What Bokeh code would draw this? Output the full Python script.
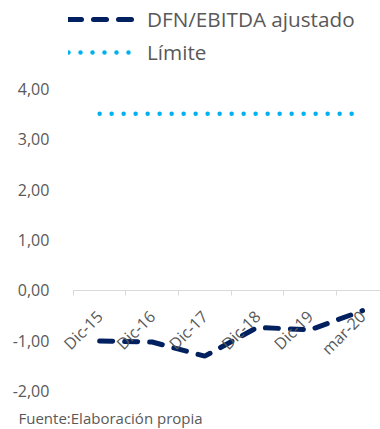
import math
from bokeh.plotting import figure
from bokeh.models import Range1d, FixedTicker, Legend, LegendItem, Label
from bokeh.embed import file_html
from bokeh.resources import INLINE

categories = ["Dic-15", "Dic-16", "Dic-17", "Dic-18", "Dic-19", "mar-20"]
dfn_ebitda = [-1.00, -1.02, -1.30, -0.73, -0.78, -0.40]
limite = [3.50, 3.50, 3.50, 3.50, 3.50, 3.50]
y_ticks = [-2, -1, 0, 1, 2, 3, 4]
y_tick_labels = ["-2,00", "-1,00", "0,00", "1,00", "2,00", "3,00", "4,00"]
footer = "Fuente:Elaboración  propia"

x = list(range(len(categories)))
GRAY = "#595959"
FONT = "Open Sans"

p = figure(width=380, height=429, output_backend="svg", toolbar_location=None,
           x_range=Range1d(-1.886, 5.342), y_range=Range1d(-2.7525, 5.7426),
           min_border=0)
p.outline_line_color = None
p.grid.visible = False
p.background_fill_color = "white"
p.border_fill_color = "white"

r1 = p.line(x, dfn_ebitda, line_color="#002060", line_width=5, line_dash="13 12", line_cap="round")
r2 = p.line(x, limite, line_color="#00B0F0", line_width=4.5, line_dash="0 12", line_cap="round")

# x axis at y = 0
xa = p.xaxis[0]
xa.fixed_location = 0
xa.bounds = (-0.5, 5.5)
xa.ticker = FixedTicker(ticks=x, minor_ticks=[i - 0.5 for i in range(len(categories) + 1)])
xa.major_label_overrides = {i: c for i, c in enumerate(categories)}
xa.major_label_orientation = math.pi / 4
xa.major_tick_out = 0
xa.major_tick_in = 0
xa.minor_tick_out = 5
xa.minor_tick_in = 0
xa.minor_tick_line_color = "#D9D9D9"
xa.axis_line_color = "#D9D9D9"
xa.major_label_standoff = 18
xa.major_label_text_font = FONT
xa.major_label_text_font_size = "16px"
xa.major_label_text_color = GRAY

ya = p.yaxis[0]
ya.fixed_location = -0.5
ya.ticker = FixedTicker(ticks=y_ticks)
ya.major_label_overrides = dict(zip(y_ticks, y_tick_labels))
ya.axis_line_color = None
ya.major_tick_line_color = None
ya.minor_tick_line_color = None
ya.major_label_standoff = 18
ya.major_label_text_font = FONT
ya.major_label_text_font_size = "16px"
ya.major_label_text_color = GRAY

legend = Legend(items=[LegendItem(label="DFN/EBITDA ajustado", renderers=[r1]),
                       LegendItem(label="Límite", renderers=[r2])],
                location=(68, 363), orientation="vertical",
                border_line_color=None, background_fill_alpha=0,
                padding=0, margin=0, spacing=5, glyph_width=67, glyph_height=20,
                label_height=20, label_standoff=12,
                label_text_font=FONT, label_text_font_size="20.7px", label_text_color=GRAY)
p.add_layout(legend, "center")

p.add_layout(Label(x=18, y=12, x_units="screen", y_units="screen", text=footer,
                   text_font=FONT, text_font_size="15px", text_color=GRAY,
                   text_baseline="alphabetic"))

open("out.html", "w").write(file_html(p, INLINE))
